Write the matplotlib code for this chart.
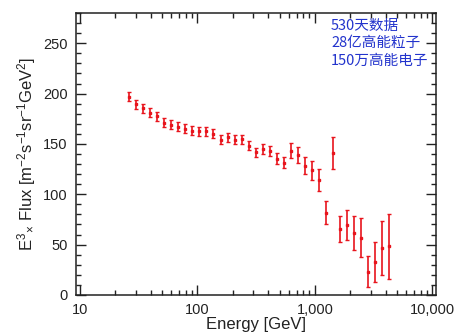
import matplotlib
matplotlib.use("Agg")
import matplotlib.pyplot as plt
from matplotlib.ticker import FixedLocator, FuncFormatter, MultipleLocator, LogLocator, NullFormatter

plt.rcParams["font.family"] = ["Liberation Sans", "DejaVu Sans"]
plt.rcParams["mathtext.fontset"] = "custom"
plt.rcParams["mathtext.rm"] = "Liberation Sans"
plt.rcParams["mathtext.it"] = "Liberation Sans"

# electron + positron spectrum, E^3-weighted
energy = [26.2, 30.1, 34.5, 39.6, 45.5, 52.2, 59.9, 68.8, 78.9, 90.6,
          103.9, 119.3, 136.9, 157.1, 180.3, 206.9, 237.5, 272.5, 312.8, 358.9,
          411.9, 472.7, 542.5, 622.6, 714.5, 820.0, 941.0, 1080, 1239, 1422,
          1633, 1874, 2150, 2468, 2831, 3249, 3729, 4279]
flux = [197.0, 189.5, 185.6, 180.9, 177.3, 171.0, 169.1, 167.1, 165.1, 163.1,
        162.4, 162.4, 160.0, 154.0, 156.5, 154.2, 154.6, 148.0, 141.7, 145.0,
        143.4, 135.2, 131.2, 143.4, 139.4, 128.5, 123.6, 114.4, 81.8, 140.9,
        65.3, 69.2, 61.6, 57.0, 23.2, 32.6, 46.8, 48.2]
flux_err = [4.5, 4.5, 4.5, 4.5, 4.5, 4.5, 4.5, 4.5, 4.5, 4.5,
            4.5, 4.5, 4.5, 4.5, 4.5, 4.5, 4.5, 4.5, 4.5, 5.0,
            5.0, 5.5, 5.5, 7.5, 8.0, 8.5, 9.5, 11.0, 11.0, 16.0,
            13.0, 15.0, 17.0, 19.0, 15.0, 20.0, 27.0, 32.0]

notes = ["530天数据", "28亿高能粒子", "150万高能电子"]
xticks = [10, 100, 1000, 10000]

fig = plt.figure(figsize=(4.7, 3.34), dpi=100)
ax = fig.add_axes([0.162, 0.117, 0.766, 0.844])

ax.errorbar(energy, flux, yerr=flux_err, fmt="s", color="#e8141c",
            ms=2.0, elinewidth=1.2, capsize=1.6, capthick=1.0)

ax.set_xscale("log")
ax.set_xlim(9.25, 10800)
ax.set_ylim(0, 280)

ax.xaxis.set_major_locator(FixedLocator(xticks))
ax.xaxis.set_major_formatter(FuncFormatter(lambda v, p: f"{v:,.0f}"))
ax.xaxis.set_minor_locator(LogLocator(base=10, subs=range(2, 10)))
ax.xaxis.set_minor_formatter(NullFormatter())
ax.yaxis.set_major_locator(MultipleLocator(50))
ax.yaxis.set_minor_locator(MultipleLocator(10))

ax.tick_params(which="both", direction="in", top=True, right=True,
               colors="#222222", labelsize=10.5, width=1.0)
ax.tick_params(which="major", length=7, pad=6)
ax.tick_params(which="minor", length=3.5)
for s in ax.spines.values():
    s.set_color("#222222")
    s.set_linewidth(1.1)

ax.set_xlabel("Energy [GeV]", fontsize=12, color="#222222", labelpad=0)
ax.set_ylabel(r"E$^3$$_{\times}$ Flux [m$^{-2}$s$^{-1}$sr$^{-1}$GeV$^2$]",
              fontsize=12, color="#222222", labelpad=4)

for i, line in enumerate(notes):
    ax.text(0.708, 0.978 - i * 0.061, line, transform=ax.transAxes,
            ha="left", va="top", fontsize=10.5, color="#2233cc",
            family=["Noto Sans CJK SC", "DejaVu Sans"])

fig.savefig("out.png", dpi=100)
